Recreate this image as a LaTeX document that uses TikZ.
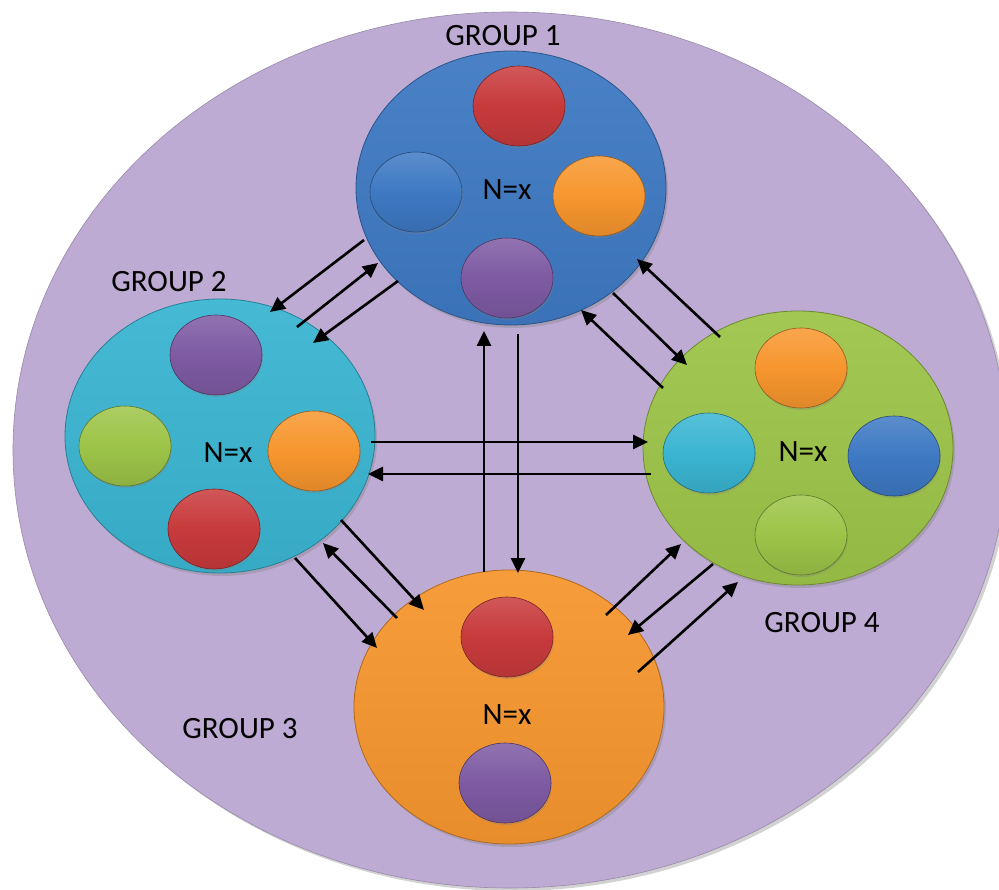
\documentclass[tikz,border=0pt]{standalone}
\usepackage{fontspec}
\setmainfont{Carlito}
\usetikzlibrary{shapes.geometric,arrows.meta,shadows}
\definecolor{bgpurple}{RGB}{190,171,212}
\definecolor{gblue}{RGB}{62,121,195}
\definecolor{gcyan}{RGB}{58,181,210}
\definecolor{ggreen}{RGB}{157,196,72}
\definecolor{gorange}{RGB}{247,150,46}
\definecolor{bred}{RGB}{200,58,60}
\definecolor{bpurple}{RGB}{126,90,163}
\begin{document}
\begin{tikzpicture}[x=1pt,y=-1pt,
  field/.style={ellipse, inner sep=0pt, minimum width=994pt, minimum height=876pt,
    fill=bgpurple, draw=bgpurple!80!black, line width=0.6pt,
    drop shadow={opacity=0.35, shadow xshift=3pt, shadow yshift=-3pt}},
  grp/.style={ellipse, inner sep=0pt, minimum width=310pt, minimum height=274pt,
    draw=#1!70!black, line width=0.8pt, top color=#1!94!white, bottom color=#1!94!black,
    drop shadow={opacity=0.35, shadow xshift=2pt, shadow yshift=-3pt}},
  ball/.style={ellipse, inner sep=0pt, minimum width=92pt, minimum height=80pt,
    draw=#1!60!black, line width=0.6pt, top color=#1!85!white, bottom color=#1!90!black,
    middle color=#1,
    drop shadow={opacity=0.3, shadow xshift=1pt, shadow yshift=-2pt}},
  lab/.style={inner sep=0pt, font=\fontsize{31}{36}\selectfont},
  arr/.style={-{Triangle[length=15pt,width=14pt]}, line width=2.6pt, black}
]
\useasboundingbox (0,0) rectangle (999,890);
\fill[white] (0,0) rectangle (999,890);
\node[field] (fld) at (510,450) {};

% groups
\node[grp=gblue]   (g1) at (511,188) {};
\node[grp=gcyan]   (g2) at (220,436) {};
\node[grp=gorange] (g3) at (509,707) {};
\node[grp=ggreen]  (g4) at (798,448) {};

% group 1 balls
\node[ball=bred]    (g1a) at (519,106) {};
\node[ball=gblue]   (g1b) at (416,192) {};
\node[ball=gorange] (g1c) at (599,196) {};
\node[ball=bpurple] (g1d) at (507,278) {};
% group 2 balls
\node[ball=bpurple] (g2a) at (216,355) {};
\node[ball=ggreen]  (g2b) at (125,446) {};
\node[ball=gorange] (g2c) at (314,451) {};
\node[ball=bred]    (g2d) at (214,529) {};
% group 3 balls
\node[ball=bred]    (g3a) at (507,637) {};
\node[ball=bpurple] (g3b) at (505,783) {};
% group 4 balls
\node[ball=gorange] (g4a) at (801,368) {};
\node[ball=gcyan]   (g4b) at (709,453) {};
\node[ball=gblue]   (g4c) at (894,456) {};
\node[ball=ggreen]  (g4d) at (801,535) {};

% texts
\node[lab] (n1) at (507,190) {N=x};
\node[lab] (n2) at (228,453) {N=x};
\node[lab] (n3) at (507,715) {N=x};
\node[lab] (n4) at (803,452) {N=x};
\node[lab] (l1) at (503,36) {GROUP 1};
\node[lab] (l2) at (169,282) {GROUP 2};
\node[lab] (l3) at (240,729) {GROUP 3};
\node[lab] (l4) at (822,623) {GROUP 4};

% arrows
\foreach \i/\sx/\sy/\ex/\ey in {
  1/364/240/270/312, 2/297/327/378/263, 3/398/281/313/343,
  4/484/572/484/331, 5/518/334/518/573,
  6/720/337/637/259, 7/613/293/687/365, 8/663/388/581/310,
  9/371/442/648/442, 10/651/474/368/474,
  11/295/558/377/648, 12/397/618/323/543, 13/341/520/424/610,
  14/606/615/681/544, 15/713/564/628/635, 16/638/672/738/582}{
  \coordinate (s\i) at (\sx,\sy);
  \coordinate (e\i) at (\ex,\ey);
  \draw[arr] (s\i) -- (e\i);
}
\end{tikzpicture}
\end{document}
